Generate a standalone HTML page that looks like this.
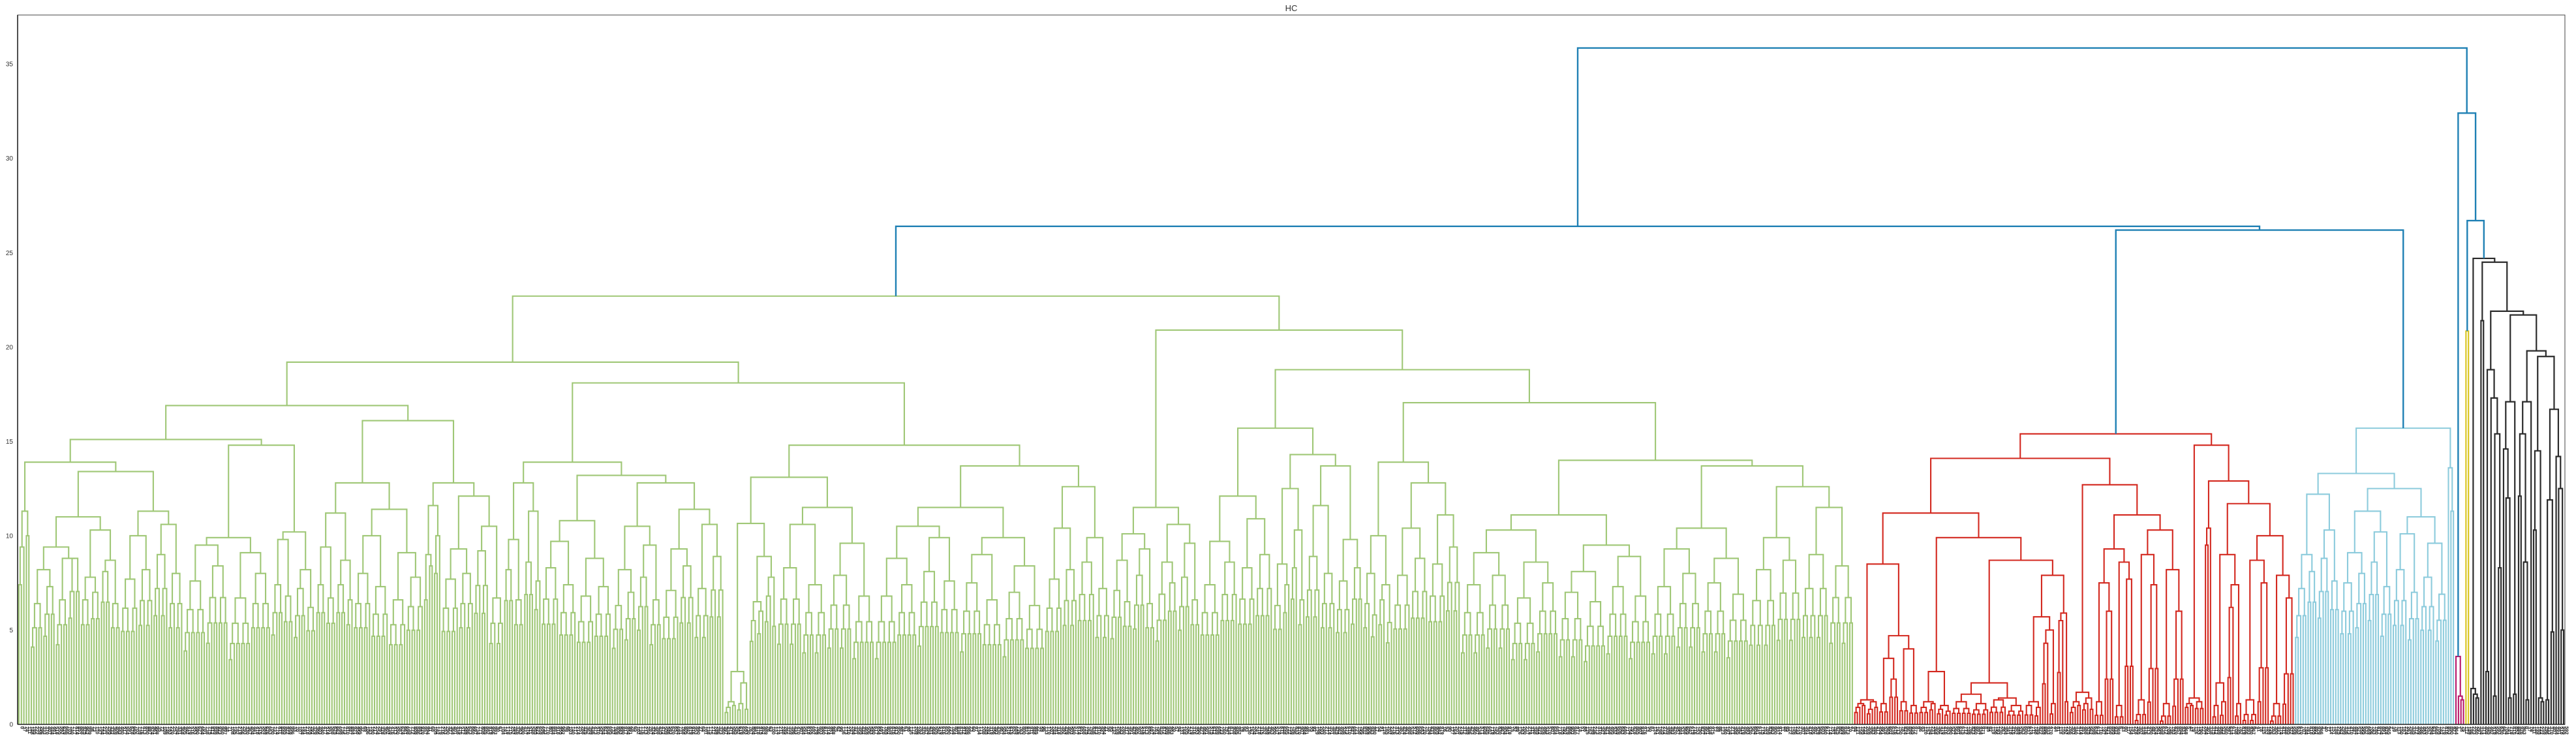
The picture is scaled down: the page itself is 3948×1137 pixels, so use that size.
<!DOCTYPE html>
<html>
<head>
<meta charset="utf-8">
<style>
  html, body { margin:0; padding:0; background:#ffffff; }
  body { width:3948px; height:1137px; overflow:hidden; }
  svg { display:block; font-family:"Liberation Sans", sans-serif; }
</style>
</head>
<body>
<svg id="chart" width="3948" height="1137" viewBox="0 0 3948 1137" xmlns="http://www.w3.org/2000/svg">
  <rect x="0" y="0" width="3948" height="1137" fill="#ffffff"/>
  <text x="1979" y="17" font-size="13" fill="#333" text-anchor="middle">HC</text>
  <g id="links"></g>
  <g id="yaxis"></g>
  <g id="xlabels"></g>
  <rect x="27" y="23" width="3904" height="1087" fill="none" stroke="#444" stroke-width="1"/>
  <line x1="27" y1="23" x2="27" y2="1110" stroke="#222" stroke-width="1.6"/>
  <line x1="27" y1="1110" x2="3931" y2="1110" stroke="#222" stroke-width="1.4"/>
</svg>
<script>
function N(h, a, b, c) { return { h: h, a: a, b: b, c: c }; }
function G(n, hs, r, c) { return { n: n, hs: hs || [], r: r || 0.8, c: c }; }
const LEAF = G(1);

const yTicks = [0, 5, 10, 15, 20, 25, 30, 35];
const clusterColors = ["#9fc776", "#d3281f", "#8ccbdc", "#b8186a", "#d8c41c", "#2b2b2b", "#1f80b4"];

const g1 = G(5, [11.3, 9.4, 10.0, 7.4, 6.6], 0.8);
const g2 = G(20, [9.4, 8.2, 8.8, 6.4, 7.3, 6.6, 8.8], 0.8);
const g3 = G(16, [10.3, 7.8, 8.7, 6.6, 7.0, 8.1, 6.4], 0.8);
const g4 = G(25, [11.3, 10.0, 10.6, 7.7, 8.2, 9.0, 8.0], 0.8);
const g5 = G(35, [9.9, 9.5, 9.1, 7.6, 8.4, 6.7, 8.0], 0.8);
const g6 = G(18, [10.2, 9.8, 8.2, 7.4, 6.8, 7.2, 6.2], 0.8);
const g7 = G(15, [11.2, 9.4, 8.7, 7.4, 6.7, 7.4, 6.6], 0.8);
const g8 = G(28, [11.4, 10.0, 9.1, 8.0, 7.3, 6.6, 7.8], 0.8);
const g9 = G(7, [11.6, 9.0, 10.0, 6.6, 8.4], 0.8);
const g10 = G(25, [12.1, 9.3, 10.5, 7.7, 8.0, 9.2, 6.7], 0.8);
const g11 = G(15, [12.8, 9.8, 11.3, 8.2, 6.6, 8.6, 7.6], 0.8);
const g12 = G(28, [10.8, 9.7, 8.8, 8.3, 7.4, 6.8, 7.3], 0.8);
const g13 = G(20, [10.5, 8.2, 9.5, 6.3, 7.0, 7.8, 6.6], 0.8);
const g14 = G(25, [11.4, 9.3, 10.6, 7.1, 8.4, 7.2, 8.9], 0.8);
const g15 = G(10, [2.8, 1.2, 2.2, 0.9, 1.0, 1.1, 0.8], 0.7);
const g16 = G(11, [8.9, 6.5, 7.8, 5.5, 6.0, 6.8, 5.2], 0.8);
const g17 = G(39, [11.5, 10.6, 9.6, 8.3, 7.4, 7.9, 6.8], 0.8);
const g18a = G(34, [10.5, 8.8, 9.9, 6.8, 7.4, 8.1, 7.6], 0.8);
const g18b = G(34, [9.9, 9.0, 8.4, 7.5, 6.6, 7.0, 6.3], 0.8);
const g19 = G(26, [12.6, 10.4, 9.9, 7.7, 8.2, 8.6, 7.2], 0.8);
const g20a = G(18, [10.1, 8.7, 9.3, 7.1, 6.5, 7.9, 6.4], 0.8);
const g20b = G(18, [10.6, 8.6, 9.6, 6.9, 7.5, 7.8, 6.6], 0.8);
const g21 = G(29, [12.1, 9.7, 10.9, 7.4, 8.6, 8.3, 9.0], 0.8);
const g22 = G(13, [12.5, 8.5, 10.3, 6.3, 7.4, 8.3, 6.6], 0.8);
const g23 = G(23, [13.7, 11.6, 9.8, 8.9, 8.0, 7.6, 8.3], 0.8);
const g24 = G(12, [10.0, 8.0, 7.4, 6.4, 5.8, 6.6, 5.4], 0.8);
const g25 = G(27, [12.8, 10.4, 11.1, 7.9, 8.8, 8.5, 9.4], 0.8);
const g26a = G(39, [10.3, 9.1, 8.6, 7.4, 7.9, 6.7, 7.5], 0.8);
const g26b = G(37, [9.5, 8.1, 8.9, 7.0, 6.5, 7.3, 6.8], 0.8);
const g27 = G(39, [10.4, 9.3, 8.8, 7.3, 8.0, 7.5, 6.9], 0.8);
const g28 = G(42, [12.6, 9.9, 11.5, 8.2, 8.7, 9.0, 8.4], 0.8);

const r1 = G(10, [1.3, 1.1, 1.2, 0.9, 1.0, 0.8, 0.9], 0.7);
const r2 = G(16, [4.7, 3.5, 4.0, 1.1, 2.4, 1.2, 1.0], 0.6);
const r3 = G(13, [2.8, 1.2, 1.0, 0.9, 1.1, 0.8, 0.7], 0.7);
const r4 = G(29, [2.2, 1.6, 1.4, 1.2, 1.1, 1.3, 1.0], 0.7);
const r5 = G(13, [5.7, 1.2, 5.0, 1.0, 0.9, 4.3, 1.1], 0.5);
const r6 = G(5, [5.9, 5.5, 1.2], 0.5);
const r7 = G(10, [1.7, 1.2, 1.4, 0.9, 1.0, 1.1, 0.8], 0.7);
const r8 = G(16, [9.3, 7.5, 8.6, 1.2, 6.0, 1.0, 7.7], 0.4);
const r9 = G(20, [10.3, 9.0, 8.2, 1.3, 7.4, 1.1, 6.0], 0.4);
const r10 = G(8, [1.4, 1.1, 1.2, 0.9, 1.0], 0.7);
const r11 = G(3, [10.4, 9.5], 0.5);
const r12 = G(12, [9.0, 2.2, 7.4, 1.0, 1.2, 6.2, 1.1], 0.4);
const r13 = G(21, [10.0, 8.7, 7.9, 1.3, 7.5, 1.1, 6.7], 0.4);

const c1 = G(18, [12.2, 9.0, 10.3, 7.2, 8.1, 8.8, 7.6], 0.8);
const c2 = G(21, [11.3, 9.1, 10.2, 7.5, 8.0, 8.6, 7.3], 0.8);
const c3 = G(22, [11.0, 10.1, 9.6, 8.2, 7.0, 7.8, 6.9], 0.8);

const greenTree = N(22.7,
  N(19.2,
    N(16.9,
      N(15.1,
        N(13.9, g1, N(13.4, N(11.0, g2, g3), g4)),
        N(14.8, g5, g6)),
      N(16.1, N(12.8, g7, g8), N(12.8, g9, g10))),
    N(18.1,
      N(13.9, g11, N(13.2, g12, N(12.8, g13, g14))),
      N(14.8,
        N(13.1, N(10.65, g15, g16), g17),
        N(13.7, N(11.5, g18a, g18b), g19)))),
  N(20.9,
    N(11.5, g20a, g20b),
    N(18.8,
      N(15.7, g21, N(14.3, g22, g23)),
      N(17.05,
        N(13.9, g24, g25),
        N(14.0, N(11.1, g26a, g26b), N(13.7, g27, g28))))),
  clusterColors[0]);

const redTree = N(15.4,
  N(14.1,
    N(11.2,
      N(8.5, r1, r2),
      N(9.9, r3, N(8.7, r4, N(7.9, r5, r6)))),
    N(12.7, r7, N(11.1, r8, r9))),
  N(14.8, r10, N(12.9, r11, N(11.7, r12, r13))),
  clusterColors[1]);

const cyanTree = N(15.7,
  N(13.3, c1, N(12.5, c2, c3)),
  N(13.6, LEAF, N(11.3, LEAF, LEAF)),
  clusterColors[2]);

const magentaTree = N(3.6, LEAF, N(1.5, LEAF, N(1.3, LEAF, LEAF)), clusterColors[3]);
const yellowTree = N(20.85, LEAF, LEAF, clusterColors[4]);

const blackTree = N(24.7,
  N(1.9, LEAF, N(1.6, LEAF, N(1.4, LEAF, LEAF))),
  N(24.5,
    N(21.4, LEAF, LEAF),
    N(21.9,
      N(18.8, N(2.8, LEAF, LEAF), N(17.3, LEAF, N(15.4, N(1.5, LEAF, LEAF), N(8.3, LEAF, LEAF)))),
      N(21.7,
        N(17.1, N(14.6, LEAF, N(12.0, LEAF, N(1.4, LEAF, LEAF))), N(1.6, LEAF, LEAF)),
        N(19.8,
          N(17.1, N(15.4, N(12.1, LEAF, LEAF), N(8.6, LEAF, N(1.3, LEAF, LEAF))), LEAF),
          N(19.5,
            N(14.5, N(10.3, LEAF, LEAF), N(1.4, LEAF, N(1.2, LEAF, LEAF))),
            N(16.7, N(11.9, N(1.3, LEAF, LEAF), N(4.9, LEAF, LEAF)), N(14.2, LEAF, N(12.5, LEAF, N(5.0, LEAF, LEAF))))))))),
  clusterColors[5]);

const topHeights = [35.85, 26.4, 26.2, 32.4, 26.7];
const fullTree = N(topHeights[0],
  N(topHeights[1], greenTree, N(topHeights[2], redTree, cyanTree, clusterColors[6]), clusterColors[6]),
  N(topHeights[3], magentaTree, N(topHeights[4], yellowTree, blackTree, clusterColors[6]), clusterColors[6]),
  clusterColors[6]);

const SVGNS = "http://www.w3.org/2000/svg";
const PLOT = { left: 27, right: 3931, top: 23, bottom: 1110 };
const YMAX = 37.6;
function yScale(h) { return PLOT.bottom - h / YMAX * (PLOT.bottom - PLOT.top); }

function countLeaves(node) {
  if (node.n !== undefined) return node.n;
  return countLeaves(node.a) + countLeaves(node.b);
}
const totalLeaves = countLeaves(fullTree);
function xScale(i) { return PLOT.left + (i + 0.5) * (PLOT.right - PLOT.left) / totalLeaves; }

const linksG = document.getElementById("links");
let leafCounter = 0;

function drawLink(xl, hl, xr, hr, h, color) {
  const p = document.createElementNS(SVGNS, "path");
  const d = "M" + xl.toFixed(2) + "," + yScale(hl).toFixed(2) +
            "L" + xl.toFixed(2) + "," + yScale(h).toFixed(2) +
            "L" + xr.toFixed(2) + "," + yScale(h).toFixed(2) +
            "L" + xr.toFixed(2) + "," + yScale(hr).toFixed(2);
  p.setAttribute("d", d);
  p.setAttribute("fill", "none");
  p.setAttribute("stroke", color);
  let w = 2.1;
  if (color === clusterColors[6]) w = 2.4;
  else if (color === clusterColors[5]) w = 2.2;
  else if (color === clusterColors[1]) w = 2.1;
  p.setAttribute("stroke-width", w);
  
  
  linksG.appendChild(p);
}

function layoutGroup(grp, n, k, parentH, color) {
  if (n === 1) {
    const x = xScale(leafCounter);
    leafCounter++;
    return { x: x, h: 0 };
  }
  let h = (grp.hs[k] !== undefined) ? grp.hs[k] : parentH * grp.r;
  if (parentH !== null && h > parentH) h = parentH;
  const nl = Math.ceil(n / 2);
  const left = layoutGroup(grp, nl, 2 * k + 1, h, color);
  const right = layoutGroup(grp, n - nl, 2 * k + 2, h, color);
  drawLink(left.x, left.h, right.x, right.h, h, color);
  return { x: (left.x + right.x) / 2, h: h };
}

function layout(node, color) {
  const col = node.c || color;
  if (node.n !== undefined) {
    return layoutGroup(node, node.n, 0, null, col);
  }
  const left = layout(node.a, col);
  const right = layout(node.b, col);
  drawLink(left.x, left.h, right.x, right.h, node.h, col);
  return { x: (left.x + right.x) / 2, h: node.h };
}
layout(fullTree, clusterColors[6]);

const yAxisG = document.getElementById("yaxis");
yTicks.forEach(function (t) {
  const tx = document.createElementNS(SVGNS, "text");
  tx.setAttribute("x", 20);
  tx.setAttribute("y", (yScale(t) + 3.5).toFixed(1));
  tx.setAttribute("font-size", "10");
  tx.setAttribute("fill", "#333");
  tx.setAttribute("text-anchor", "end");
  tx.textContent = String(t);
  
  
  yAxisG.appendChild(tx);
});

const xlG = document.getElementById("xlabels");
for (let i = 0; i < totalLeaves; i++) {
  const tx = document.createElementNS(SVGNS, "text");
  const x = xScale(i);
  tx.setAttribute("transform", "translate(" + (x + 2.5).toFixed(2) + ",1113) rotate(90)");
  tx.setAttribute("font-size", "7.5");
  tx.setAttribute("font-weight", "bold");
  tx.setAttribute("fill", "#222");
  tx.textContent = String((i * 37) % 1000);
  
  
  xlG.appendChild(tx);
}
</script>
</body>
</html>
